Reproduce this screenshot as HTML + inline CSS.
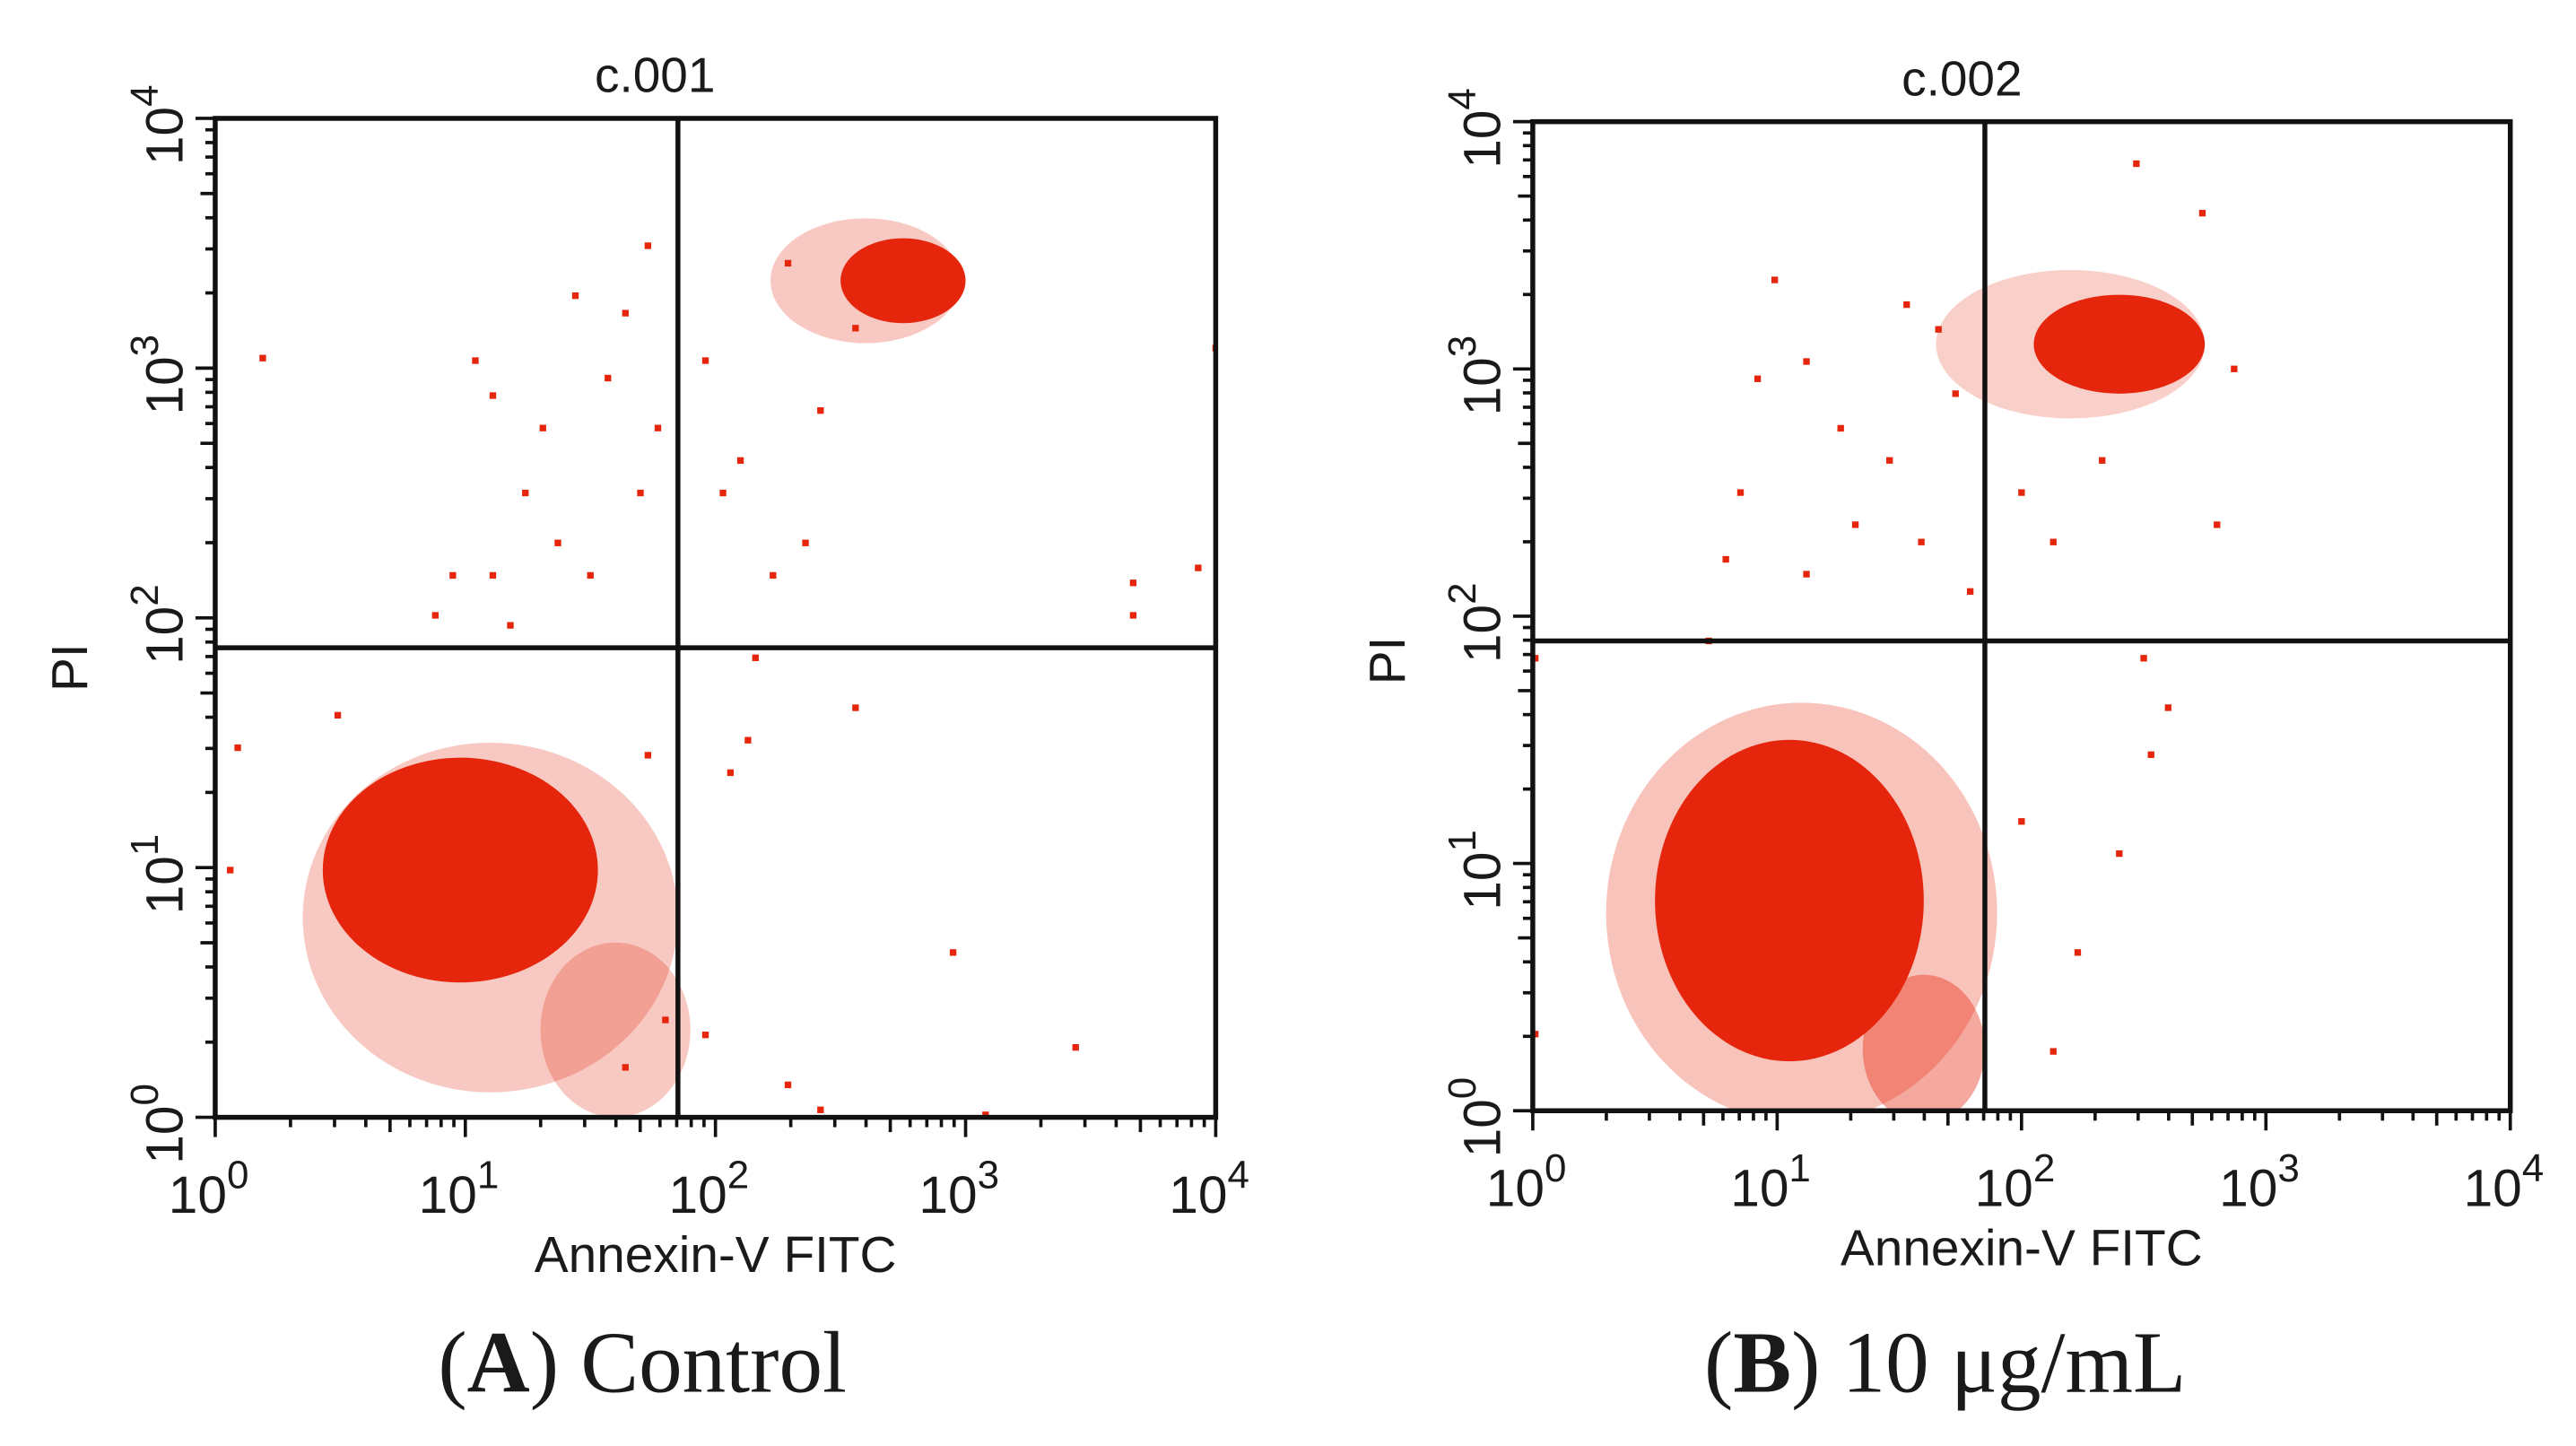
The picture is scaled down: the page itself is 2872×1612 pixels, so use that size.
<!DOCTYPE html>
<html><head><meta charset="utf-8"><style>
html,body{margin:0;padding:0;background:#fff;}
svg{display:block;}
text{font-family:"Liberation Sans",sans-serif;fill:#1a1a1a;}
.cap{font-family:"Liberation Serif",serif;font-size:53px;}
</style></head><body>
<svg id="fig" width="2872" height="1612" viewBox="0 0 1568 880" xmlns="http://www.w3.org/2000/svg">
<text class="cap" x="391" y="847" text-anchor="middle">(<tspan font-weight="bold">A</tspan>) Control</text>
<text class="cap" x="1184" y="847" text-anchor="middle">(<tspan font-weight="bold">B</tspan>) 10 μg/mL</text>
</svg>
<script>
// Panel A data (log10 units)
const aClusterX=[1.1,1.6,0.98,2.6,2.75];
const aClusterY=[0.8,0.35,0.99,3.35,3.35];
const aClusterRX=[0.75,0.3,0.55,0.38,0.25];
const aClusterRY=[0.7,0.35,0.45,0.25,0.17];
const aClusterDensity=[0.25,0.25,1,0.25,1];
const aDotX=[0.19,1.04,1.11,1.24,1.44,1.64,1.73,1.31,1.37,1.50,1.11,0.95,1.18,1.70,1.77,1.57,1.96,2.10,2.23,2.36,2.42,2.56,2.29,2.03,2.16,2.56,2.13,2.06,3.67,3.67,3.93,4.0,2.95,3.44,1.96,2.29,2.42,3.08,0.09,0.49,0.06,0.88,1.73,1.80,1.64];
const aDotY=[3.04,3.03,2.89,2.50,3.29,3.22,3.49,2.76,2.30,2.17,2.17,2.17,1.97,2.50,2.76,2.96,3.03,2.63,2.17,2.30,2.83,3.16,3.42,2.50,1.84,1.64,1.51,1.38,2.14,2.01,2.20,3.08,0.66,0.28,0.33,0.13,0.03,0.01,1.48,1.61,0.99,2.01,1.45,0.39,0.20];
// Panel B data
const bClusterX=[1.1,1.6,1.05,2.2,2.4];
const bClusterY=[0.8,0.25,0.85,3.1,3.1];
const bClusterRX=[0.8,0.25,0.55,0.55,0.35];
const bClusterRY=[0.85,0.3,0.65,0.3,0.2];
const bClusterDensity=[0.28,0.4,1,0.22,1];
const bDotX=[0.99,1.53,1.12,0.92,1.26,1.46,1.66,1.32,0.85,0.79,1.12,1.59,1.73,1.79,2.00,2.13,2.33,2.47,2.74,2.87,2.80,2.50,2.60,2.53,2.23,2.40,2.13,0.01,0.01,0.72,2.00];
const bDotY=[3.36,3.26,3.03,2.96,2.76,2.63,3.16,2.37,2.50,2.23,2.17,2.30,2.90,2.10,2.50,2.30,2.63,3.83,3.63,3.00,2.37,1.83,1.63,1.44,0.64,1.04,0.24,0.31,1.83,1.90,1.17];
const decades=[0,1,2,3,4];
const titles=["c.001","c.002"];
const gateA=[1.85,1.88], gateB=[1.85,1.9];

const NS="http://www.w3.org/2000/svg";
const svg=document.getElementById('fig');
const RED="#e5260c";
function mk(tag,attrs,parent){const e=document.createElementNS(NS,tag);for(const k in attrs)e.setAttribute(k,attrs[k]);(parent||svg).appendChild(e);return e;}

function panel(p){
  const g=mk('g',{});
  
  
  const sx=v=>p.x0+v*p.dx, sy=v=>p.y0-v*p.dy;
  const clip='clip'+p.id;
  const cp=mk('clipPath',{id:clip},g);mk('rect',{x:p.x0,y:sy(4),width:4*p.dx,height:4*p.dy},cp);
  const dg=mk('g',{'clip-path':'url(#'+clip+')'},g);
  for(let i=0;i<p.cx.length;i++){
    const el=mk('ellipse',{cx:sx(p.cx[i]),cy:sy(p.cy[i]),rx:p.crx[i]*p.dx,ry:p.cry[i]*p.dy,fill:RED,'fill-opacity':p.cd[i]},dg);
    
    
  }
  for(let i=0;i<p.px.length;i++){
    const r=mk('rect',{x:sx(p.px[i])-2,y:sy(p.py[i])-2,width:4,height:4,fill:RED},dg);
    
    
  }
  const box=mk('rect',{x:p.x0,y:sy(4),width:4*p.dx,height:4*p.dy,fill:'none',stroke:'#111','stroke-width':3},g);
  
  
  const vl=mk('line',{x1:sx(p.gate[0]),x2:sx(p.gate[0]),y1:sy(4),y2:sy(0),stroke:'#111','stroke-width':3},g);
  
  
  const hl=mk('line',{x1:sx(0),x2:sx(4),y1:sy(p.gate[1]),y2:sy(p.gate[1]),stroke:'#111','stroke-width':3},g);
  
  
  for(let d=0;d<4;d++){for(let m=1;m<10;m++){
    const v=d+Math.log10(m), L=m===1?12:(m===5?9:6);
    mk('line',{x1:sx(v),x2:sx(v),y1:sy(0),y2:sy(0)+L,stroke:'#111','stroke-width':2},g);
    mk('line',{x1:sx(0),x2:sx(0)-L,y1:sy(v),y2:sy(v),stroke:'#111','stroke-width':2},g);
  }}
  mk('line',{x1:sx(4),x2:sx(4),y1:sy(0),y2:sy(0)+12,stroke:'#111','stroke-width':2},g);
  mk('line',{x1:sx(0),x2:sx(0)-12,y1:sy(4),y2:sy(4),stroke:'#111','stroke-width':2},g);
  decades.forEach(d=>{
    const t=mk('text',{x:sx(d)-4,y:sy(0)+58,'text-anchor':'middle','font-size':32},g);
    t.innerHTML='10<tspan dy="-15" font-size="24">'+d+'</tspan>';
    
    
    const ty=mk('text',{x:0,y:0,'text-anchor':'middle','font-size':32,transform:`translate(${sx(0)-20},${sy(d)+4}) rotate(-90)`},g);
    ty.innerHTML='10<tspan dy="-15" font-size="24">'+d+'</tspan>';
    
    
  });
  const tt=mk('text',{x:sx(p.gate[0])-14,y:sy(4)-16,'text-anchor':'middle','font-size':30},g);
  tt.textContent=p.title;
  
  
  const xt=mk('text',{x:sx(2)+0,y:sy(0)+94,'text-anchor':'middle','font-size':31},g);
  xt.textContent='Annexin-V FITC';
  
  
  const yt=mk('text',{x:0,y:0,'text-anchor':'middle','font-size':31,transform:`translate(${sx(0)-78},${sy(p.gate[1])+12}) rotate(-90)`},g);
  yt.textContent='PI';
  
  
}
panel({id:'panel-a',x0:131,y0:680,dx:152.25,dy:152,cx:aClusterX,cy:aClusterY,crx:aClusterRX,cry:aClusterRY,cd:aClusterDensity,px:aDotX,py:aDotY,gate:gateA,title:titles[0]});
panel({id:'panel-b',x0:933,y0:676,dx:148.75,dy:150.5,cx:bClusterX,cy:bClusterY,crx:bClusterRX,cry:bClusterRY,cd:bClusterDensity,px:bDotX,py:bDotY,gate:gateB,title:titles[1]});
</script>
</body></html>
